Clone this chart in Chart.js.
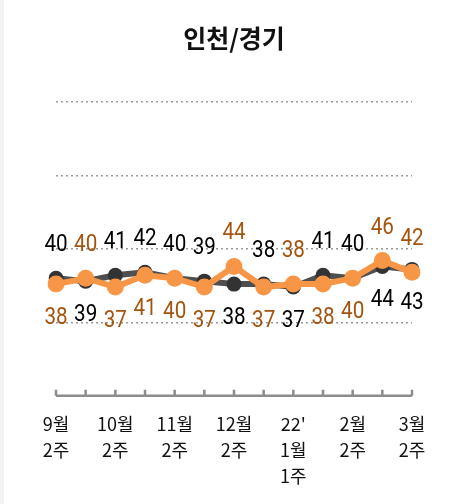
<!DOCTYPE html>
<html>
<head>
<meta charset="utf-8">
<script src="https://cdn.jsdelivr.net/npm/chart.js@4/dist/chart.umd.min.js"></script>
<style>
  html, body { margin: 0; padding: 0; background: #fff; }
  #wrap { position: relative; width: 449px; height: 504px; border-left: 4px solid #f2f2f2; box-sizing: border-box; }
</style>
</head>
<body>
<div id="wrap"><canvas id="chart"></canvas></div>
<script>
// categories (only every second week gets a label)
const weeks = [
  ["9월", "2주"], "", ["10월", "2주"], "", ["11월", "2주"], "", ["12월", "2주"], "",
  ["22'", "1월", "1주"], "", ["2월", "2주"], "", ["3월", "2주"]
];
const blackValues = [40, 39, 41, 42, 40, 39, 38, 38, 37, 41, 40, 44, 43];
const orangeValues = [38, 40, 37, 41, 40, 37, 44, 37, 38, 38, 40, 46, 42];
// which series shows its label above the points
const blackLabelAbove = [true, false, true, true, true, true, false, true, false, true, true, false, false];

// value labels + bottom axis with upward ticks
const labelsPlugin = {
  id: "valueLabels",
  afterDatasetsDraw(chart) {
    const ctx = chart.ctx;
    const x = chart.scales.x;
    const y = chart.scales.y;
    const y0 = y.getPixelForValue(0);

    ctx.save();
    ctx.strokeStyle = "#8c8c8c";
    ctx.lineWidth = 2.5;
    ctx.beginPath();
    ctx.moveTo(x.getPixelForValue(0), y0);
    ctx.lineTo(x.getPixelForValue(weeks.length - 1), y0);
    weeks.forEach((w, i) => {
      const px = x.getPixelForValue(i);
      ctx.moveTo(px, y0);
      ctx.lineTo(px, y0 - 6);
    });
    ctx.stroke();

    // narrow digits, like the original
    ctx.font = "24px Roboto";
    ctx.textAlign = "center";
    ctx.textBaseline = "middle";
    chart.data.datasets.forEach((ds, di) => {
      const meta = chart.getDatasetMeta(di);
      const isBlack = ds.label === "black";
      meta.data.forEach((pt, i) => {
        const above = isBlack ? blackLabelAbove[i] : !blackLabelAbove[i];
        ctx.fillStyle = isBlack ? "#000" : "#a3550f";
        ctx.save();
        ctx.translate(pt.x, above ? pt.y - 33 : pt.y + 34);
        ctx.scale(0.86, 1);
        ctx.fillText(ds.data[i], 0, 0);
        ctx.restore();
      });
    });
    ctx.restore();
  }
};

const config = {
  type: "line",
  data: {
    labels: weeks,
    datasets: [
      {
        label: "orange",
        data: orangeValues,
        borderColor: "#f79646",
        backgroundColor: "#f79646",
        borderWidth: 6,
        pointRadius: 8.5,
        pointBorderWidth: 0,
        tension: 0,
      },
      {
        label: "black",
        data: blackValues,
        borderColor: "rgba(60,60,60,0.9)",
        backgroundColor: "#333",
        borderWidth: 6,
        pointRadius: 7.5,
        pointBorderWidth: 0,
        tension: 0,
      },
    ],
  },
  options: {
    responsive: false,
    animation: false,
    layout: { padding: { left: 52, right: 37, top: 0, bottom: 0 } },
    plugins: {
      legend: { display: false },
      tooltip: { enabled: false },
      title: {
        display: true,
        text: "인천/경기",
        color: "#111",
        font: { family: "Noto Sans CJK KR", size: 25, weight: "bold" },
        padding: { top: 23, bottom: 49 },
      },
    },
    scales: {
      x: {
        offset: false,
        grid: { display: false, drawTicks: false },
        border: { display: false },
        ticks: {
          autoSkip: false,
          maxRotation: 0,
          padding: 15,
          color: "#111",
          font: { family: "Noto Sans CJK KR", size: 18, lineHeight: 1.45 },
        },
      },
      y: {
        min: 0,
        max: 100,
        ticks: { display: false, stepSize: 25 },
        border: { display: false, dash: [2, 3] },
        grid: {
          drawTicks: false,
          lineWidth: 1.5,
          color: (c) => (c.tick && c.tick.value === 0 ? "rgba(0,0,0,0)" : "#9a9a9a"),
        },
        afterFit: (s) => { s.width = 0; },
      },
    },
  },
  plugins: [labelsPlugin],
};

const canvas = document.getElementById("chart");
canvas.width = 445;
canvas.height = 504;
const myChart = new Chart(canvas, config);
</script>
</body>
</html>
